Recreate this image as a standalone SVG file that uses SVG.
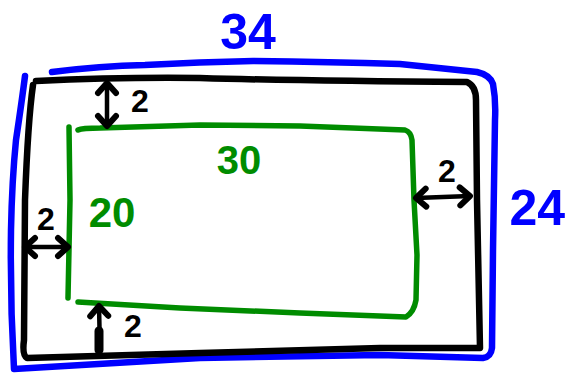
<svg xmlns="http://www.w3.org/2000/svg" width="567" height="373" viewBox="0 0 567 373">
  <style>
    .blue{fill:none;stroke:#0000ff;stroke-width:6.5;stroke-linecap:round;stroke-linejoin:round}
    .black{fill:none;stroke:#000;stroke-width:6.5;stroke-linecap:round;stroke-linejoin:round}
    .green{fill:none;stroke:#008c00;stroke-width:5.5;stroke-linecap:round;stroke-linejoin:round}
    .arrow{fill:none;stroke:#000;stroke-width:4.5;stroke-linecap:round}
    .lbl{font-family:"Liberation Sans",Arial,sans-serif;font-weight:bold}
    .dim{font-size:32px;fill:#000}
    .bl{fill:#0000ff}
    .gr{fill:#008c00}
  </style>
  <defs>
    <marker id="head" viewBox="-13 -11 16 22" refX="0" refY="0" markerUnits="userSpaceOnUse" markerWidth="16" markerHeight="22" orient="auto-start-reverse" overflow="visible">
      <path d="M-10,-9 L0,0 L-10,9" fill="none" stroke="#000" stroke-width="6" stroke-linecap="round" stroke-linejoin="round"/>
    </marker>
  </defs>
  <g id="outer">
    <path class="blue" d="M52,72 Q100,66 145,65 Q200,62 253,61 Q330,62 400,64 L477,72 Q490,75 493,84 Q496,100 495,120 L493,250 L492,348 Q491,357 483,358 L380,355 L200,358 Q100,364 14,369 Q10,300 11,230 Q12,180 16,140 Q22,100 25,76"/>
  </g>
  <g id="middle">
    <path class="black" d="M36,81 Q120,77 200,78 Q300,81 467,82 Q476,86 476,100 L477,200 L480,348 L380,348 L200,353 L27,358 Q22,355 24,340 L25,200 Q28,120 33,85"/>
  </g>
  <g id="inner">
    <path class="green" d="M69,127 L70,200 L68,298"/>
    <path class="green" d="M78,130 Q82,128 100,128 L200,125 L300,126 L405,130 Q411,132 412,140 L414,200 L417,255 L416,300 Q414,312 406,317 L300,313 L180,308 L78,302"/>
  </g>
  <g id="connectors">
    <line class="arrow" x1="107" y1="83" x2="107" y2="126" marker-start="url(#head)" marker-end="url(#head)"/>
    <line class="arrow" x1="25" y1="247" x2="68" y2="247" marker-start="url(#head)" marker-end="url(#head)"/>
    <line class="arrow" x1="416" y1="198" x2="470" y2="196" marker-start="url(#head)" marker-end="url(#head)"/>
    <line class="arrow" x1="100" y1="350" x2="99" y2="306" marker-end="url(#head)"/>
    <line x1="99" y1="331" x2="99" y2="350" stroke="#000" stroke-width="9" stroke-linecap="round"/>
  </g>
  <g id="labels">
    <text class="lbl bl" x="248" y="49" font-size="50" text-anchor="middle">34</text>
    <text class="lbl bl" x="565" y="225" font-size="50" text-anchor="end">24</text>
    <text class="lbl gr" x="239" y="174" font-size="40" text-anchor="middle">30</text>
    <text class="lbl gr" x="112" y="227" font-size="42" text-anchor="middle">20</text>
    <text class="lbl dim" x="131" y="112">2</text>
    <text class="lbl dim" x="37" y="230">2</text>
    <text class="lbl dim" x="438" y="182">2</text>
    <text class="lbl dim" x="124" y="337">2</text>
  </g>
</svg>
